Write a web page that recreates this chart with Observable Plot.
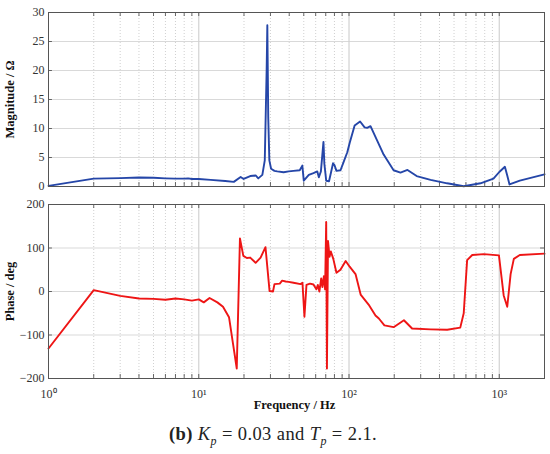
<!DOCTYPE html>
<html>
<head>
<meta charset="utf-8">
<script src="https://cdn.jsdelivr.net/npm/d3@7"></script>
<script src="https://cdn.jsdelivr.net/npm/@observablehq/plot@0.6"></script>
<style>
  body { margin: 0; background: #fff; }
  #wrap { position: relative; width: 550px; height: 454px; background: #fff; }
  #wrap svg { display: block; }
  #wrap svg text { font-family: "Liberation Serif", "Times New Roman", serif !important; }
  #caption { position: absolute; left: 0; width: 546px; top: 424px; text-align: center; line-height: 20px;
    font-family: "Liberation Serif", serif; font-size: 18.5px; letter-spacing: 0.4px; color: #222; }
</style>
</head>
<body>
<div id="wrap"><div id="top"></div><div id="bot"></div>
<div id="caption"><b>(b)</b> <i>K<sub style="font-size:12px">p</sub></i> = 0.03 and <i>T<sub style="font-size:12px">p</sub></i> = 2.1.</div>
</div>
<script>
const magF = [1,2,3,4,5,6,7,8,8.5,9,10,12,15,17.1,19,19.9,22,23.9,24.9,26.5,27.5,28.3,28.6,29.0,29.5,30.3,31.9,33.3,36.7,39.7,42.7,47,48.9,50,54,58,61.5,63,65,67.6,68.5,70.5,73.6,76,78.3,80,82.5,87.8,92,97.4,101,109,118.5,127,132,139,154,170,198,220,245,282,349,450,580,750,915,1000,1090,1130,1170,1370,2000];
const magV = [0.1,1.35,1.45,1.55,1.5,1.4,1.35,1.35,1.4,1.3,1.3,1.15,0.95,0.8,1.65,1.3,1.8,1.9,1.4,2.0,4.5,20,27.8,12,4.5,3.05,2.7,2.6,2.45,2.6,2.7,2.8,3.6,1.0,2.0,2.3,2.6,1.6,2.6,7.7,4,1.0,0.9,2.5,4.0,3.7,2.7,2.8,4.2,5.9,7.5,10.5,11.2,10.2,10.1,10.4,7.9,5.5,2.8,2.4,2.85,1.8,1.15,0.55,0.05,0.55,1.35,2.5,3.4,1.9,0.35,1.0,2.1];
const phF = [1,2,3,4,5,6,7,8,9,10,10.8,11.8,13.3,14.5,15.9,16.9,17.9,18.8,19.8,20.9,22,23.9,25.8,27.8,29.6,31.2,31.9,34.6,35.9,37.9,39.7,42.7,47.6,49,50.5,52.1,55,58,60.6,62,63.5,65.3,66.5,68,69.3,70.5,71.3,72.5,74.2,75.7,78.6,82.5,87.7,95,101,110.5,119.5,135,150,158,172,198,232,263,349,450,550,580,611,661,790,995,1070,1130,1190,1250,1370,2000];
const phV = [-131,3,-10,-16,-17,-19,-16,-18,-21,-18,-25,-15,-25,-35,-59,-120,-177,122,82,77,78,66,78,102,1,0,17,18,25,23,22,20,17,20,-58,15,18,16,5,15,0,30,10,35,5,160,-177,116,80,92,75,43,50,70,57,40,-7,-30,-55,-62,-78,-82,-66,-85,-87,-88,-83,-50,72,84,86,83,-9,-35,40,75,84,87];
const majorX = [1,10,100,1000];
const xTickLabels = ["10⁰","10¹","10²","10³"];
const minorX = [];
for (const d of [1,10,100,1000]) for (let k = 2; k <= 9; k++) if (d*k <= 2000) minorX.push(d*k);
const magTicks = [0,5,10,15,20,25,30];
const phTicks = [-200,-100,0,100,200];

const magData = magF.map((f,i) => ({f, v: magV[i]}));
const phData = phF.map((f,i) => ({f, v: phV[i]}));
const allX = majorX.concat(minorX);

const serif = "Liberation Serif";
const W = 550, ML = 48, MR = 6;
const xDomain = [1, 2000];
const tk = 1.062; // inner tick length factor on log x

function panel({data, color, yTicks, yDomain, label, height, mt, mb, showX}) {
  const yLen = (yDomain[1]-yDomain[0]) * 4/174;
  const marks = [
    Plot.ruleY(yTicks.slice(1,-1), {stroke: "#d9d9d9", strokeWidth: 1}),
    Plot.ruleX(minorX, {stroke: "#c4c4c4", strokeWidth: 0.8, strokeDasharray: "1,2"}),
    Plot.ruleX(majorX.slice(1), {stroke: "#d2d2d2", strokeWidth: 1.2}),
    Plot.ruleX(allX, {y1: yDomain[0], y2: yDomain[0] + yLen, stroke: "#444", strokeWidth: 0.8}),
    Plot.ruleX(allX, {y1: yDomain[1] - yLen, y2: yDomain[1], stroke: "#444", strokeWidth: 0.8}),
    Plot.ruleY(yTicks, {x1: xDomain[0], x2: xDomain[0]*tk, stroke: "#444", strokeWidth: 0.8}),
    Plot.ruleY(yTicks, {x1: xDomain[1]/tk, x2: xDomain[1], stroke: "#444", strokeWidth: 0.8}),
    Plot.line(data, {x: "f", y: "v", stroke: color, strokeWidth: 1.9, strokeLinejoin: "round"}),
    Plot.frame({stroke: "#555", strokeWidth: 1}),
    Plot.axisY({ticks: yTicks, tickSize: 0, tickPadding: 4, fontSize: 12, fontFamily: serif, label: null, tickFormat: d => d < 0 ? "−" + Math.abs(d) : String(d)}),
    Plot.text([label], {frameAnchor: "left", dx: -39, rotate: -90, fontWeight: "bold", fontSize: 12.5, fontFamily: serif, fill: "#111", textAnchor: "middle"})
  ];
  if (showX) {
    marks.push(Plot.axisX({ticks: majorX, tickSize: 0, tickPadding: 11, fontSize: 12, fontFamily: serif, label: null, tickFormat: d => xTickLabels[majorX.indexOf(d)]}));
    marks.push(Plot.text(["Frequency / Hz"], {frameAnchor: "bottom", dy: 30, dx: -2, fontWeight: "bold", fontSize: 12.5, fontFamily: serif, fill: "#111", textAnchor: "middle"}));
  }
  return Plot.plot({
    width: W, height, marginLeft: ML, marginRight: MR, marginTop: mt, marginBottom: mb,
    style: {fontFamily: serif, color: "#333", background: "#fff", overflow: "visible"},
    x: {type: "log", domain: xDomain, axis: null},
    y: {domain: yDomain, axis: null},
    marks
  });
}

document.getElementById("top").append(panel({data: magData, color: "#2546a8", yTicks: magTicks, yDomain: [0,30], label: "Magnitude / Ω", height: 195, mt: 12, mb: 9, showX: false}));
document.getElementById("bot").append(panel({data: phData, color: "#ee1515", yTicks: phTicks, yDomain: [-200,200], label: "Phase / deg", height: 219, mt: 9, mb: 36, showX: true}));
</script>
</body>
</html>
